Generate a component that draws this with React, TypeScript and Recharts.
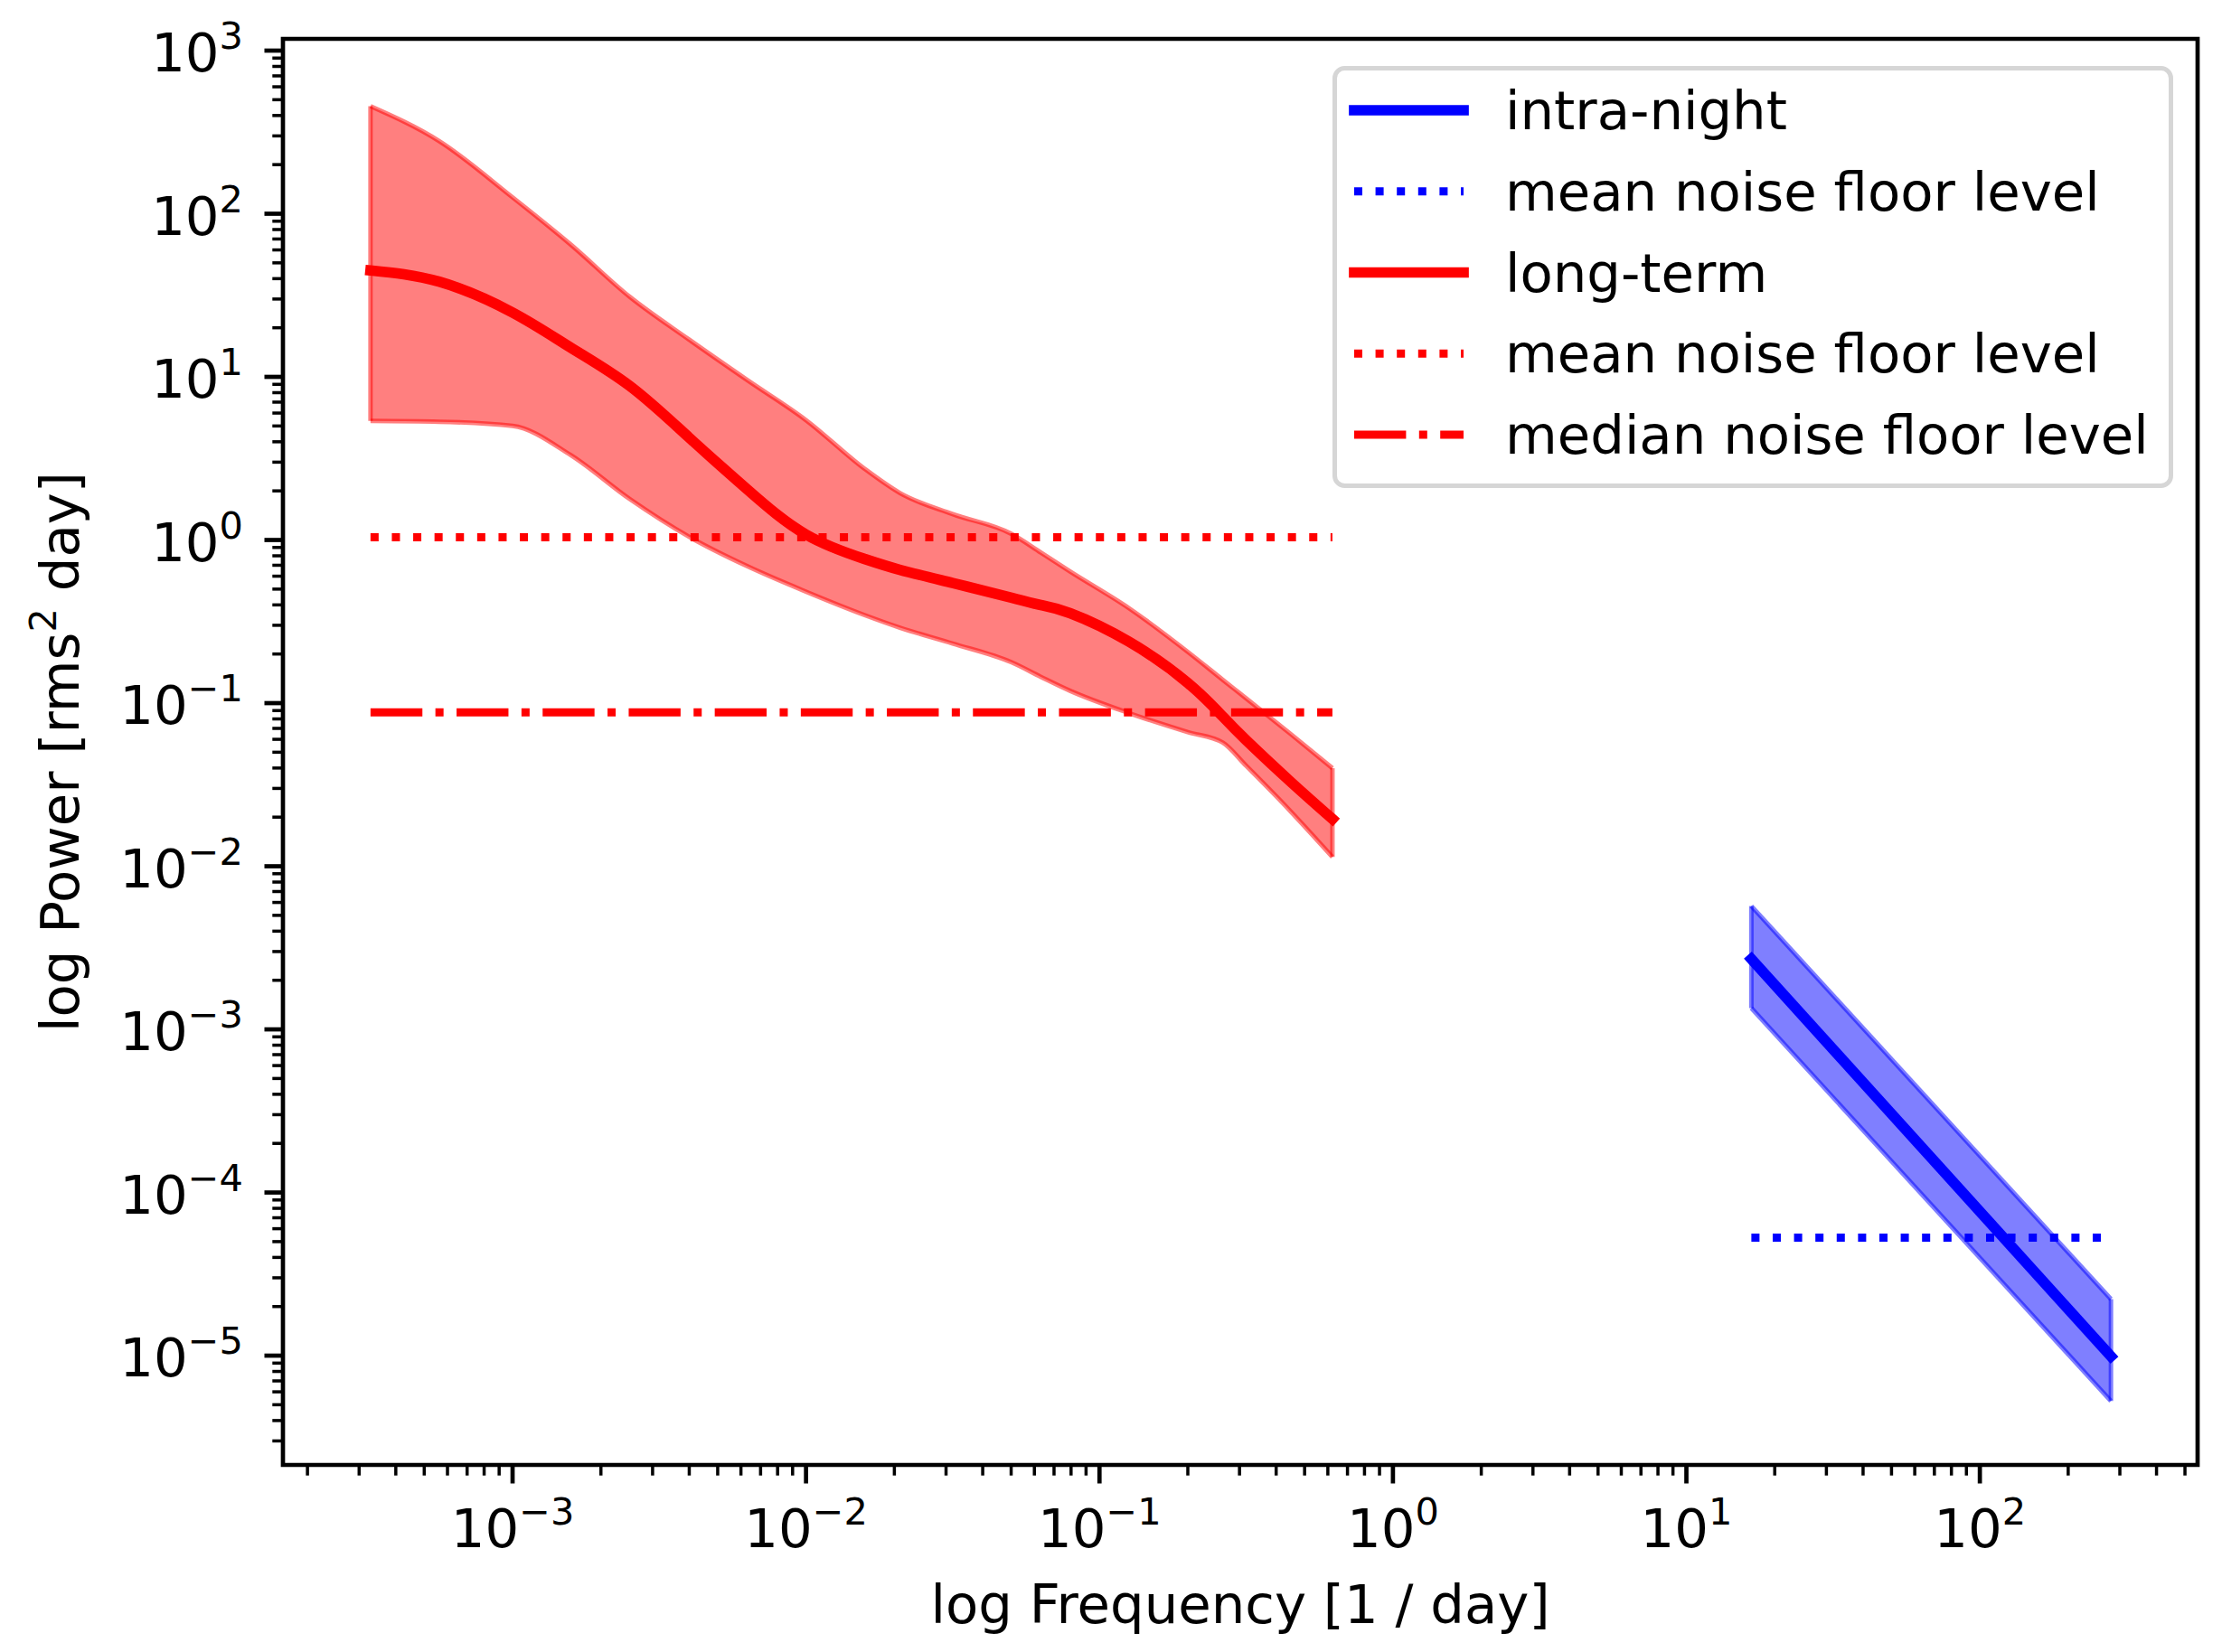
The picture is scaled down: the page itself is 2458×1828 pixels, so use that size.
import {
  ComposedChart,
  XAxis,
  YAxis,
  Area,
  Line,
  Legend,
  ReferenceArea,
  ReferenceLine,
} from 'recharts'

const FONT = '"DejaVu Sans", sans-serif'
const FS = 59.3
const SUP = 41.5

// long-term power spectrum (freq in 1/day)
const longFreq = [
  3.28e-4, 5.62e-4, 1.0e-3, 1.58e-3, 2.51e-3, 3.98e-3, 6.31e-3, 1.0e-2, 1.58e-2, 2.09e-2,
  3.16e-2, 5.01e-2, 6.31e-2, 7.94e-2, 0.126, 0.2, 0.263, 0.316, 0.447, 0.622,
]
const longMedian = [
  44.9, 38.3, 24.8, 15.1, 8.79, 4.27, 2.04, 1.08, 0.766, 0.656,
  0.545, 0.443, 0.399, 0.356, 0.238, 0.133, 0.0828, 0.0593, 0.0331, 0.0195,
]
const longUpper = [
  456, 279, 126, 64.6, 30.9, 17.0, 9.55, 5.43, 2.74, 1.94,
  1.44, 1.09, 0.838, 0.641, 0.382, 0.206, 0.139, 0.107, 0.0649, 0.0399,
]
const longLower = [
  5.37, 5.31, 5.0, 3.31, 1.78, 1.05, 0.69, 0.482, 0.347, 0.29,
  0.232, 0.178, 0.145, 0.119, 0.0869, 0.0664, 0.0573, 0.0413, 0.0218, 0.0114,
]
const longMeanFloor = 1.04
const longMedianFloor = 0.0877

// intra-night power spectrum
const nightFreq = [16.65, 279.7]
const nightMedian = [2.7e-3, 9.9e-6]
const nightUpper = [5.7e-3, 2.22e-5]
const nightLower = [1.35e-3, 5.27e-6]
const nightMeanFloor = 5.28e-5

// decade exponents that carry a label
const xDecades = [-3, -2, -1, 0, 1, 2]
const yDecades = [-5, -4, -3, -2, -1, 0, 1, 2, 3]

const legendLabels = [
  'intra-night',
  'mean noise floor level',
  'long-term',
  'mean noise floor level',
  'median noise floor level',
]

const X_DOMAIN: [number, number] = [-3.7825, 2.742]
const Y_DOMAIN: [number, number] = [-5.67, 3.072]

const DOTTED = '9 14.6'
const DASHDOT = '57.4 14.4 9 14.4'

const lg = Math.log10
const NONE = [null, null]

const rows = [
  ...longFreq.map((f, i) => ({
    x: lg(f),
    ltBand: [lg(longLower[i]), lg(longUpper[i])],
    ltLine: lg(longMedian[i]),
    ltMean: lg(longMeanFloor),
    ltMedian: lg(longMedianFloor),
    inBand: NONE,
  })),
  ...nightFreq.map((f, i) => ({
    x: lg(f),
    inBand: [lg(nightLower[i]), lg(nightUpper[i])],
    inLine: lg(nightMedian[i]),
    inMean: lg(nightMeanFloor),
    ltBand: NONE,
  })),
]

function logTicks([lo, hi]: [number, number]) {
  const out: number[] = []
  for (let n = Math.floor(lo); n <= Math.ceil(hi); n++) {
    for (let k = 1; k <= 9; k++) {
      const v = n + lg(k)
      if (v >= lo && v <= hi) out.push(v)
    }
  }
  return out
}

const xTicks = logTicks(X_DOMAIN)
const yTicks = logTicks(Y_DOMAIN)

const isMajor = (v: number, decades: number[]) =>
  decades.some((d) => Math.abs(v - d) < 1e-6)

const expText = (n: number) => (n < 0 ? '\u2212' + Math.abs(n) : String(n))

function XTick({ x, y, payload }: any) {
  const v = payload.value
  const major = isMajor(v, xDecades)
  return (
    <g>
      <line
        x1={x}
        x2={x}
        y1={y}
        y2={y + (major ? 20.5 : 11.7)}
        stroke="#000"
        strokeWidth={major ? 4.7 : 3.5}
      />
      {major && (
        <text x={x} y={y + 91} textAnchor="middle" fontFamily={FONT} fontSize={FS} fill="#000">
          10
          <tspan dy={-25} fontSize={SUP}>
            {expText(Math.round(v))}
          </tspan>
        </text>
      )}
    </g>
  )
}

function YTick({ x, y, payload }: any) {
  const v = payload.value
  const major = isMajor(v, yDecades)
  return (
    <g>
      <line
        x1={x - (major ? 20.5 : 11.7)}
        x2={x}
        y1={y}
        y2={y}
        stroke="#000"
        strokeWidth={major ? 4.7 : 3.5}
      />
      {major && (
        <text x={x - 44} y={y + 23} textAnchor="end" fontFamily={FONT} fontSize={FS} fill="#000">
          10
          <tspan dy={-25} fontSize={SUP}>
            {expText(Math.round(v))}
          </tspan>
        </text>
      )}
    </g>
  )
}

function XTitle() {
  return (
    <text x={1372} y={1796} textAnchor="middle" fontFamily={FONT} fontSize={FS} fill="#000">
      log Frequency [1 / day]
    </text>
  )
}

function YTitle() {
  return (
    <text
      x={87}
      y={832}
      transform="rotate(-90 87 832)"
      textAnchor="middle"
      fontFamily={FONT}
      fontSize={FS}
      fill="#000"
    >
      log Power [rms
      <tspan dy={-25} fontSize={SUP}>
        2
      </tspan>
      <tspan dy={25}> day]</tspan>
    </text>
  )
}

const legendStyles = [
  { color: '#0000ff', width: 11.7, dash: undefined, cap: 'square' },
  { color: '#0000ff', width: 9, dash: DOTTED, cap: 'butt' },
  { color: '#ff0000', width: 11.7, dash: undefined, cap: 'square' },
  { color: '#ff0000', width: 9, dash: DOTTED, cap: 'butt' },
  { color: '#ff0000', width: 9, dash: DASHDOT, cap: 'butt' },
]

function LegendBox() {
  return (
    <svg width={930} height={467} style={{ display: 'block' }}>
      <rect
        x={2.5}
        y={2.5}
        width={925}
        height={462}
        rx={11}
        fill="#fff"
        fillOpacity={0.8}
        stroke="#cccccc"
        strokeOpacity={0.8}
        strokeWidth={5}
      />
      {legendLabels.map((label, i) => {
        const cy = 49 + i * 89.75
        const s = legendStyles[i]
        return (
          <g key={i}>
            <line
              x1={24}
              x2={145}
              y1={cy}
              y2={cy}
              stroke={s.color}
              strokeWidth={s.width}
              strokeDasharray={s.dash}
              strokeLinecap={s.cap as any}
            />
            <text x={191} y={cy + 21} fontFamily={FONT} fontSize={FS} fill="#000">
              {label}
            </text>
          </g>
        )
      })}
    </svg>
  )
}

const first = 0
const last = longFreq.length - 1

export default function App() {
  return (
    <div style={{ position: 'absolute', left: 0, top: 0, width: 2458, height: 1828, background: '#fff' }}>
      <ComposedChart
        width={2458}
        height={1828}
        data={rows}
        margin={{ top: 43, right: 27, bottom: 0, left: 0 }}
        style={{ fontFamily: FONT }}
      >
        <XAxis
          dataKey="x"
          type="number"
          domain={X_DOMAIN}
          ticks={xTicks}
          interval={0}
          allowDataOverflow
          axisLine={false}
          tickLine={false}
          tickSize={0}
          tickMargin={0}
          height={207}
          tick={(p: any) => <XTick {...p} />}
          label={<XTitle />}
        />
        <YAxis
          type="number"
          domain={Y_DOMAIN}
          ticks={yTicks}
          interval={0}
          allowDataOverflow
          axisLine={false}
          tickLine={false}
          tickSize={0}
          tickMargin={0}
          width={313}
          tick={(p: any) => <YTick {...p} />}
          label={<YTitle />}
        />

        <Area
          dataKey="ltBand"
          type="monotone"
          fill="#ff0000"
          fillOpacity={0.5}
          stroke="#ff0000"
          strokeOpacity={0.5}
          strokeWidth={5}
          connectNulls
          dot={false}
          activeDot={false}
          isAnimationActive={false}
        />
        <Area
          dataKey="inBand"
          type="linear"
          fill="#0000ff"
          fillOpacity={0.5}
          stroke="#0000ff"
          strokeOpacity={0.5}
          strokeWidth={5}
          connectNulls
          dot={false}
          activeDot={false}
          isAnimationActive={false}
        />

        {/* closing edges of the shaded bands */}
        {[first, last].map((i) => (
          <ReferenceLine
            key={'lt' + i}
            segment={[
              { x: lg(longFreq[i]), y: lg(longLower[i]) },
              { x: lg(longFreq[i]), y: lg(longUpper[i]) },
            ]}
            stroke="#ff0000"
            strokeOpacity={0.5}
            strokeWidth={5}
          />
        ))}
        {[0, nightFreq.length - 1].map((i) => (
          <ReferenceLine
            key={'in' + i}
            segment={[
              { x: lg(nightFreq[i]), y: lg(nightLower[i]) },
              { x: lg(nightFreq[i]), y: lg(nightUpper[i]) },
            ]}
            stroke="#0000ff"
            strokeOpacity={0.5}
            strokeWidth={5}
          />
        ))}

        <Line
          dataKey="inLine"
          type="linear"
          stroke="#0000ff"
          strokeWidth={11.7}
          strokeLinecap="square"
          connectNulls
          dot={false}
          activeDot={false}
          isAnimationActive={false}
        />
        <Line
          dataKey="inMean"
          type="linear"
          stroke="#0000ff"
          strokeWidth={9}
          strokeDasharray={DOTTED}
          strokeLinecap="butt"
          connectNulls
          dot={false}
          activeDot={false}
          isAnimationActive={false}
        />
        <Line
          dataKey="ltLine"
          type="natural"
          stroke="#ff0000"
          strokeWidth={11.7}
          strokeLinecap="square"
          connectNulls
          dot={false}
          activeDot={false}
          isAnimationActive={false}
        />
        <Line
          dataKey="ltMean"
          type="linear"
          stroke="#ff0000"
          strokeWidth={9}
          strokeDasharray={DOTTED}
          strokeLinecap="butt"
          connectNulls
          dot={false}
          activeDot={false}
          isAnimationActive={false}
        />
        <Line
          dataKey="ltMedian"
          type="linear"
          stroke="#ff0000"
          strokeWidth={9}
          strokeDasharray={DASHDOT}
          strokeLinecap="butt"
          connectNulls
          dot={false}
          activeDot={false}
          isAnimationActive={false}
        />

        {/* the plot frame */}
        <ReferenceArea
          x1={X_DOMAIN[0]}
          x2={X_DOMAIN[1]}
          y1={Y_DOMAIN[0]}
          y2={Y_DOMAIN[1]}
          fill="none"
          fillOpacity={0}
          stroke="#000"
          strokeWidth={4.7}
          ifOverflow="visible"
        />

        <Legend
          layout="vertical"
          align="center"
          verticalAlign="middle"
          content={() => <LegendBox />}
          wrapperStyle={{ left: 1474, top: 73, width: 930, height: 467 }}
        />
      </ComposedChart>
    </div>
  )
}
